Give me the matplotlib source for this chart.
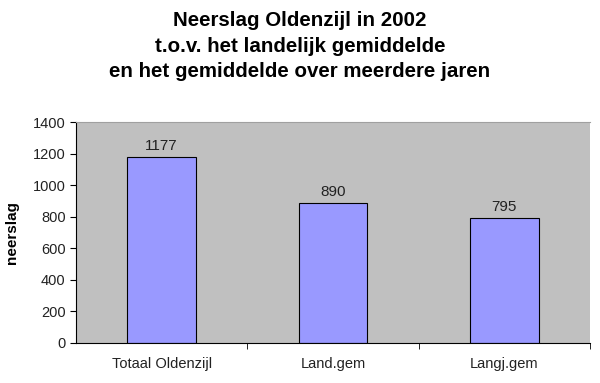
import matplotlib.pyplot as plt
import numpy as np

plt.rcParams['font.family'] = ['Liberation Sans', 'DejaVu Sans']

categories = ['Totaal Oldenzijl', 'Land.gem', 'Langj.gem']
neerslag = [1177, 890, 795]
yticks = [0, 200, 400, 600, 800, 1000, 1200, 1400]

fig = plt.figure(figsize=(6, 3.83), dpi=100)
ax = fig.add_axes([76/600, 40/383, 514/600, 221/383])
ax.set_facecolor('#C0C0C0')

x = np.arange(len(categories))
bars = ax.bar(x, neerslag, width=0.4, color='#9999FF', edgecolor='black', linewidth=0.8)
for xi, v in zip(x, neerslag):
    ax.text(xi, v + 25, str(v), ha='center', va='bottom', fontsize=11, color='#222222')

ax.set_xlim(-0.5, len(categories) - 0.5)
ax.set_ylim(0, 1400)
ax.set_yticks(yticks)
ax.set_yticklabels([str(t) for t in yticks], fontsize=10.5, color='#222222')
ax.set_xticks(x)
ax.set_xticklabels(categories, fontsize=10.5, color='#222222')
ax.tick_params(axis='x', length=0, pad=10)
ax.set_xticks(np.arange(0.5, len(categories), 1), minor=True)
ax.tick_params(axis='x', which='minor', length=4, direction='out')
ax.tick_params(axis='y', length=4, direction='out')

ax.spines['top'].set_color('#A0A0A0')
ax.spines['right'].set_visible(False)
ax.spines['left'].set_color('black')
ax.spines['bottom'].set_color('black')

ax.set_ylabel('neerslag', fontsize=11, fontweight='bold', labelpad=10)

fig.text(0.5, 0.97, 'Neerslag Oldenzijl in 2002\nt.o.v. het landelijk gemiddelde\nen het gemiddelde over meerdere jaren',
         ha='center', va='top', fontsize=14.8, fontweight='bold', linespacing=1.42)

plt.savefig('out.png', dpi=100)
